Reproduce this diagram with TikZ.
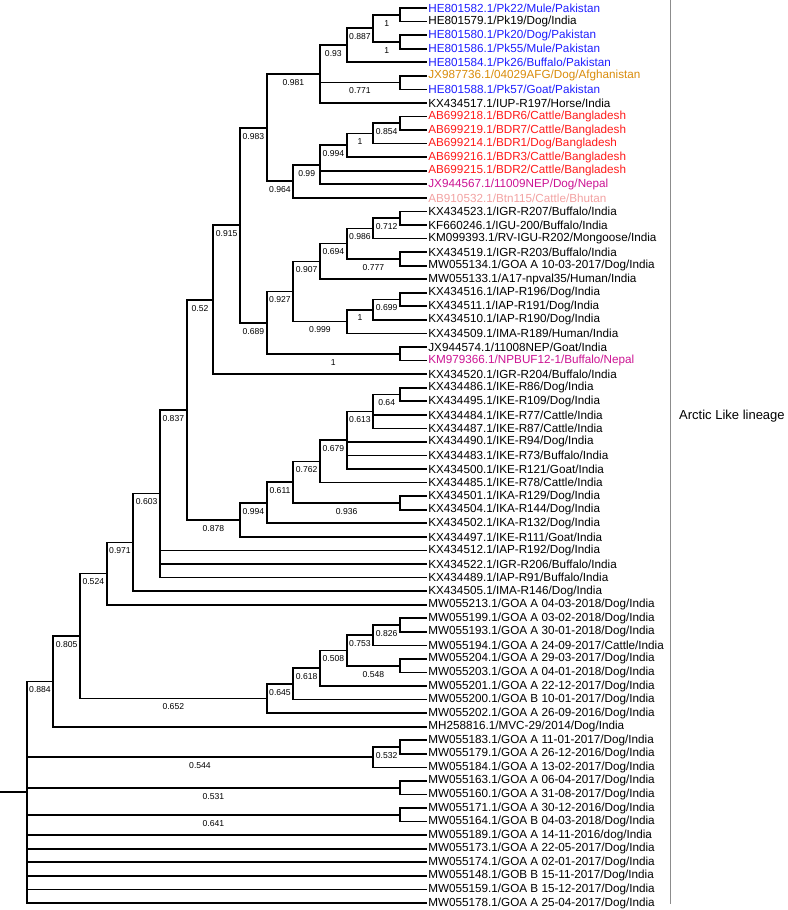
\documentclass[tikz,border=0pt]{standalone}
\usepackage{fontspec}
\setmainfont{Liberation Sans}
\definecolor{pakblue}{HTML}{1F1FFF}
\definecolor{afgorange}{HTML}{D98C0B}
\definecolor{bdred}{HTML}{FF1A1A}
\definecolor{nepmag}{HTML}{CC1493}
\definecolor{btnpink}{HTML}{F2A2A2}
\tikzset{
  br/.style={line width=1.7pt},
  sup/.style={pos=0.75, below=3.5pt, inner sep=1pt, font=\fontsize{8.6}{9}\selectfont},
  leaf/.style={anchor=west, inner sep=1.5pt, font=\fontsize{11.7}{13}\selectfont},
  clade/.style={anchor=west, inner sep=0pt, font=\fontsize{13}{15}\selectfont},
  lineage/.style={draw=black!45, line width=1pt}
}
\begin{document}
\begin{tikzpicture}[x=26.667pt, y=-13.5606pt]
  \useasboundingbox (0pt,0pt) rectangle (787pt,-910pt);
  \begin{scope}[yshift=-8pt]
  % Leaves
  \node[leaf, pakblue] (l1) at (16,0) {HE801582.1/Pk22/Mule/Pakistan};
  \node[leaf] (l2) at (16,1) {HE801579.1/Pk19/Dog/India};
  \node[leaf, pakblue] (l3) at (16,2) {HE801580.1/Pk20/Dog/Pakistan};
  \node[leaf, pakblue] (l4) at (16,3) {HE801586.1/Pk55/Mule/Pakistan};
  \node[leaf, pakblue] (l5) at (16,4) {HE801584.1/Pk26/Buffalo/Pakistan};
  \node[leaf, afgorange] (l6) at (16,5) {JX987736.1/04029AFG/Dog/Afghanistan};
  \node[leaf, pakblue] (l7) at (16,6) {HE801588.1/Pk57/Goat/Pakistan};
  \node[leaf] (l8) at (16,7) {KX434517.1/IUP-R197/Horse/India};
  \node[leaf, bdred] (l9) at (16,8) {AB699218.1/BDR6/Cattle/Bangladesh};
  \node[leaf, bdred] (l10) at (16,9) {AB699219.1/BDR7/Cattle/Bangladesh};
  \node[leaf, bdred] (l11) at (16,10) {AB699214.1/BDR1/Dog/Bangladesh};
  \node[leaf, bdred] (l12) at (16,11) {AB699216.1/BDR3/Cattle/Bangladesh};
  \node[leaf, bdred] (l13) at (16,12) {AB699215.1/BDR2/Cattle/Bangladesh};
  \node[leaf, nepmag] (l14) at (16,13) {JX944567.1/11009NEP/Dog/Nepal};
  \node[leaf, btnpink] (l15) at (16,14) {AB910532.1/Btn115/Cattle/Bhutan};
  \node[leaf] (l16) at (16,15) {KX434523.1/IGR-R207/Buffalo/India};
  \node[leaf] (l17) at (16,16) {KF660246.1/IGU-200/Buffalo/India};
  \node[leaf] (l18) at (16,17) {KM099393.1/RV-IGU-R202/Mongoose/India};
  \node[leaf] (l19) at (16,18) {KX434519.1/IGR-R203/Buffalo/India};
  \node[leaf] (l20) at (16,19) {MW055134.1/GOA A 10-03-2017/Dog/India};
  \node[leaf] (l21) at (16,20) {MW055133.1/A17-npval35/Human/India};
  \node[leaf] (l22) at (16,21) {KX434516.1/IAP-R196/Dog/India};
  \node[leaf] (l23) at (16,22) {KX434511.1/IAP-R191/Dog/India};
  \node[leaf] (l24) at (16,23) {KX434510.1/IAP-R190/Dog/India};
  \node[leaf] (l25) at (16,24) {KX434509.1/IMA-R189/Human/India};
  \node[leaf] (l26) at (16,25) {JX944574.1/11008NEP/Goat/India};
  \node[leaf, nepmag] (l27) at (16,26) {KM979366.1/NPBUF12-1/Buffalo/Nepal};
  \node[leaf] (l28) at (16,27) {KX434520.1/IGR-R204/Buffalo/India};
  \node[leaf] (l29) at (16,28) {KX434486.1/IKE-R86/Dog/India};
  \node[leaf] (l30) at (16,29) {KX434495.1/IKE-R109/Dog/India};
  \node[leaf] (l31) at (16,30) {KX434484.1/IKE-R77/Cattle/India};
  \node[leaf] (l32) at (16,31) {KX434487.1/IKE-R87/Cattle/India};
  \node[leaf] (l33) at (16,32) {KX434490.1/IKE-R94/Dog/India};
  \node[leaf] (l34) at (16,33) {KX434483.1/IKE-R73/Buffalo/India};
  \node[leaf] (l35) at (16,34) {KX434500.1/IKE-R121/Goat/India};
  \node[leaf] (l36) at (16,35) {KX434485.1/IKE-R78/Cattle/India};
  \node[leaf] (l37) at (16,36) {KX434501.1/IKA-R129/Dog/India};
  \node[leaf] (l38) at (16,37) {KX434504.1/IKA-R144/Dog/India};
  \node[leaf] (l39) at (16,38) {KX434502.1/IKA-R132/Dog/India};
  \node[leaf] (l40) at (16,39) {KX434497.1/IKE-R111/Goat/India};
  \node[leaf] (l41) at (16,40) {KX434512.1/IAP-R192/Dog/India};
  \node[leaf] (l42) at (16,41) {KX434522.1/IGR-R206/Buffalo/India};
  \node[leaf] (l43) at (16,42) {KX434489.1/IAP-R91/Buffalo/India};
  \node[leaf] (l44) at (16,43) {KX434505.1/IMA-R146/Dog/India};
  \node[leaf] (l45) at (16,44) {MW055213.1/GOA A 04-03-2018/Dog/India};
  \node[leaf] (l46) at (16,45) {MW055199.1/GOA A 03-02-2018/Dog/India};
  \node[leaf] (l47) at (16,46) {MW055193.1/GOA A 30-01-2018/Dog/India};
  \node[leaf] (l48) at (16,47) {MW055194.1/GOA A 24-09-2017/Cattle/India};
  \node[leaf] (l49) at (16,48) {MW055204.1/GOA A 29-03-2017/Dog/India};
  \node[leaf] (l50) at (16,49) {MW055203.1/GOA A 04-01-2018/Dog/India};
  \node[leaf] (l51) at (16,50) {MW055201.1/GOA A 22-12-2017/Dog/India};
  \node[leaf] (l52) at (16,51) {MW055200.1/GOA B 10-01-2017/Dog/India};
  \node[leaf] (l53) at (16,52) {MW055202.1/GOA A 26-09-2016/Dog/India};
  \node[leaf] (l54) at (16,53) {MH258816.1/MVC-29/2014/Dog/India};
  \node[leaf] (l55) at (16,54) {MW055183.1/GOA A 11-01-2017/Dog/India};
  \node[leaf] (l56) at (16,55) {MW055179.1/GOA A 26-12-2016/Dog/India};
  \node[leaf] (l57) at (16,56) {MW055184.1/GOA A 13-02-2017/Dog/India};
  \node[leaf] (l58) at (16,57) {MW055163.1/GOA A 06-04-2017/Dog/India};
  \node[leaf] (l59) at (16,58) {MW055160.1/GOA A 31-08-2017/Dog/India};
  \node[leaf] (l60) at (16,59) {MW055171.1/GOA A 30-12-2016/Dog/India};
  \node[leaf] (l61) at (16,60) {MW055164.1/GOA B 04-03-2018/Dog/India};
  \node[leaf] (l62) at (16,61) {MW055189.1/GOA A 14-11-2016/dog/India};
  \node[leaf] (l63) at (16,62) {MW055173.1/GOA A 22-05-2017/Dog/India};
  \node[leaf] (l64) at (16,63) {MW055174.1/GOA A 02-01-2017/Dog/India};
  \node[leaf] (l65) at (16,64) {MW055148.1/GOB B 15-11-2017/Dog/India};
  \node[leaf] (l66) at (16,65) {MW055159.1/GOA B 15-12-2017/Dog/India};
  \node[leaf] (l67) at (16,66) {MW055178.1/GOA A 25-04-2017/Dog/India};

  % Internal nodes
  \coordinate (a1) at (15,0.5);  \coordinate (a2) at (15,2.5);
  \coordinate (a3) at (14,1.5);  \coordinate (a4) at (13,2.75);
  \coordinate (a5) at (15,5.5);  \coordinate (a6) at (12,4.875);
  \coordinate (b1) at (15,8.5);  \coordinate (b2) at (14,9.25);
  \coordinate (b3) at (13,10.125); \coordinate (b4) at (12,11.5625);
  \coordinate (b5) at (11,12.78125); \coordinate (ab) at (10,8.828125);
  \coordinate (c1) at (15,15.5); \coordinate (c2) at (14,16.25);
  \coordinate (c3) at (15,18.5); \coordinate (c4) at (13,17.375);
  \coordinate (c5) at (12,18.6875); \coordinate (c6) at (15,21.5);
  \coordinate (c7) at (14,22.25); \coordinate (c8) at (13,23.125);
  \coordinate (c9) at (11,20.90625); \coordinate (c10) at (15,25.5);
  \coordinate (c11) at (10,23.203125);
  \coordinate (abc) at (9,16.015625); \coordinate (abcd) at (8,21.5078125);
  \coordinate (d1) at (15,28.5); \coordinate (d2) at (14,29.75);
  \coordinate (d3) at (13,31.875); \coordinate (d4) at (12,33.4375);
  \coordinate (d5) at (15,36.5); \coordinate (d6) at (11,34.96875);
  \coordinate (d7) at (10,36.484375); \coordinate (d8) at (9,37.7421875);
  \coordinate (e1) at (7,29.625); \coordinate (e2) at (6,35.8125);
  \coordinate (e3) at (5,39.40625); \coordinate (e4) at (4,41.703125);
  \coordinate (g1) at (15,45.5); \coordinate (g2) at (14,46.25);
  \coordinate (g3) at (15,48.5); \coordinate (g4) at (13,47.375);
  \coordinate (g5) at (12,48.6875); \coordinate (g6) at (11,49.84375);
  \coordinate (g7) at (10,50.921875);
  \coordinate (f1) at (3,46.3125); \coordinate (f2) at (2,49.65625);
  \coordinate (h1) at (15,54.5); \coordinate (h2) at (14,55.25);
  \coordinate (h3) at (15,57.5); \coordinate (h4) at (15,59.5);
  \coordinate (root) at (1,57.828125);
  \coordinate (stem) at (0,57.828125);

  % Branches to leaves
  \foreach \p/\c in {a1/l1, a1/l2, a2/l3, a2/l4, a4/l5, a5/l6, a5/l7, a6/l8,
      b1/l9, b1/l10, b2/l11, b3/l12, b4/l13, b4/l14, b5/l15,
      c1/l16, c1/l17, c2/l18, c3/l19, c3/l20, c5/l21, c6/l22, c6/l23,
      c7/l24, c8/l25, c10/l26, c10/l27, abcd/l28,
      d1/l29, d1/l30, d2/l31, d2/l32, d3/l33, d3/l34, d3/l35, d4/l36,
      d5/l37, d5/l38, d7/l39, d8/l40, e2/l41, e2/l42, e2/l43, e3/l44, e4/l45,
      g1/l46, g1/l47, g2/l48, g3/l49, g3/l50, g5/l51, g6/l52, g7/l53, f2/l54,
      h1/l55, h1/l56, h2/l57, h3/l58, h3/l59, h4/l60, h4/l61,
      root/l62, root/l63, root/l64, root/l65, root/l66, root/l67}
    \draw[br] (\p) |- (\c.west);

  % Internal branches with support values
  \foreach \p/\c/\s in {a3/a1/1, a3/a2/1, a4/a3/0.887, a6/a4/0.93, a6/a5/0.771,
      ab/a6/0.981, b2/b1/0.854, b3/b2/1, b4/b3/0.994, b5/b4/0.99, ab/b5/0.964,
      abc/ab/0.983, c2/c1/0.712, c4/c2/0.986, c4/c3/0.777, c5/c4/0.694,
      c9/c5/0.907, c7/c6/0.699, c8/c7/1, c9/c8/0.999, c11/c9/0.927, c11/c10/1,
      abc/c11/0.689, abcd/abc/0.915, e1/abcd/0.52,
      d2/d1/0.64, d3/d2/0.613, d4/d3/0.679, d6/d4/0.762, d6/d5/0.936,
      d7/d6/0.611, d8/d7/0.994, e1/d8/0.878, e2/e1/0.837, e3/e2/0.603,
      e4/e3/0.971, f1/e4/0.524,
      g2/g1/0.826, g4/g2/0.753, g4/g3/0.548, g5/g4/0.508, g6/g5/0.618,
      g7/g6/0.645, f1/g7/0.652, f2/f1/0.805, root/f2/0.884,
      h2/h1/0.532, root/h2/0.544, root/h3/0.531, root/h4/0.641}
    \draw[br] (\p) |- node[sup] {\s} (\c);
  \draw[br] (stem) -- (root);
  \end{scope}

  % Lineage bar
  \coordinate (bartop) at (670.5pt,0pt);
  \coordinate (barbot) at (670.5pt,-904pt);
  \draw[lineage] (bartop) -- (barbot);
  \node[clade] (arctic) at (679pt,-416pt) {Arctic Like lineage};
\end{tikzpicture}
\end{document}
